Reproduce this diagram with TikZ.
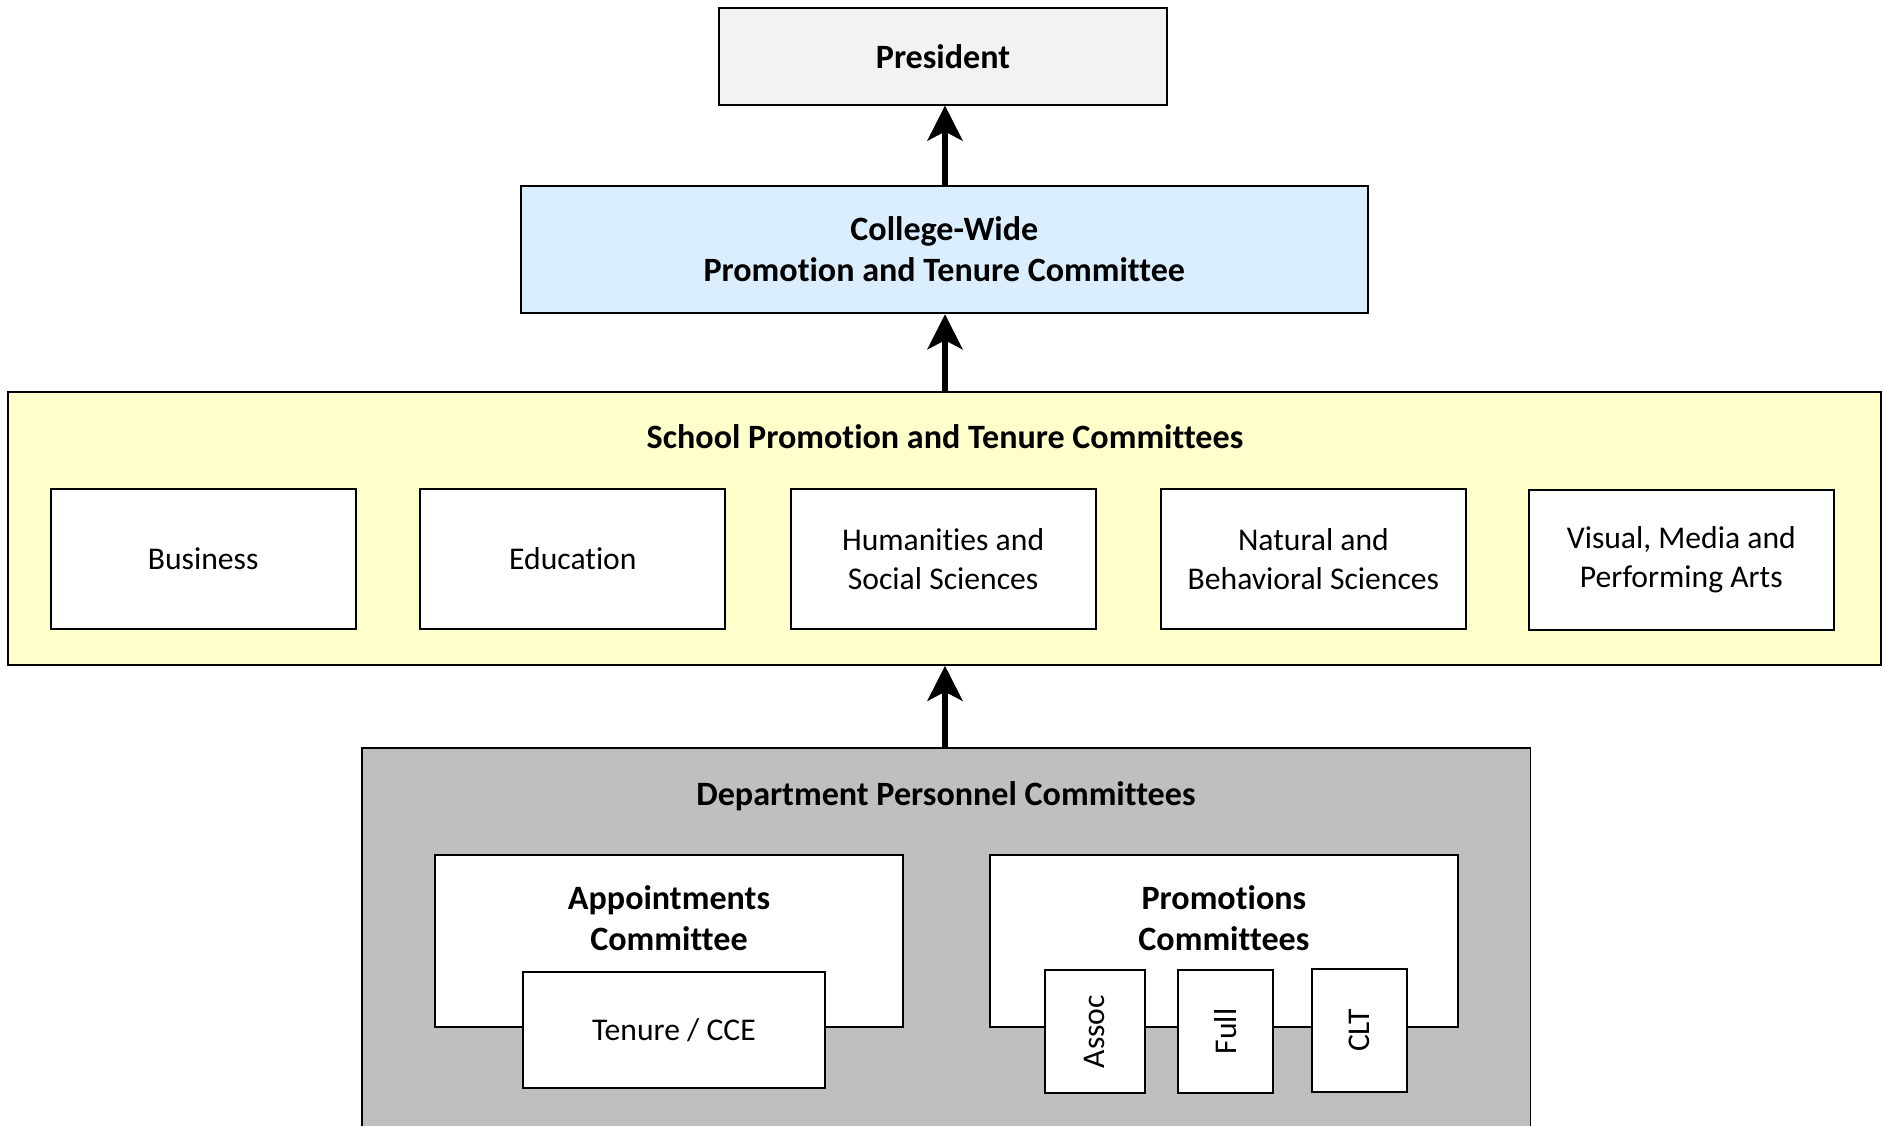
\documentclass[tikz,border=0pt]{standalone}
\usepackage{fontspec}
\setmainfont{Carlito}[RawFeature={-liga;-clig;-rlig;-dlig;-calt}]
\usetikzlibrary{arrows.meta}
\definecolor{presfill}{RGB}{242,242,242}
\definecolor{collfill}{RGB}{218,238,253}
\definecolor{schoolfill}{RGB}{255,255,204}
\definecolor{deptfill}{RGB}{191,191,191}
\tikzset{
  box/.style={draw=black, line width=0.38mm, inner sep=0pt, align=center},
  reg/.style={font=\fontsize{18}{22}\selectfont, align=center},
  bld/.style={font=\fontsize{19.4}{23.3}\selectfont\bfseries, align=center},
  arr/.style={line width=1.2mm, -{Stealth[length=7mm, width=7mm, inset=1.8mm]}},
  subbox/.style={box, fill=white, minimum width=61mm, minimum height=27.9mm, reg},
  rotbox/.style={box, fill=white, minimum height=24.5mm, reg}
}
\begin{document}
\begin{tikzpicture}[x=0.2mm,y=-0.2mm]
\clip (0,0) rectangle (1885,1125);
\fill[white] (0,0) rectangle (1885,1125);
% President
\node[box, fill=presfill, minimum width=89.6mm, minimum height=19.24mm, bld] (pres) at (943,56.5) {President};
% College-wide
\node[box, fill=collfill, minimum width=169.5mm, minimum height=25.5mm, bld] (coll) at (944.3,249.5) {College-Wide\\Promotion and Tenure Committee};
% School
\node[box, fill=schoolfill, minimum width=374.6mm, minimum height=54.56mm] (school) at (944.9,528.4) {};
\node[bld] (schooltitle) at (945,437) {School Promotion and Tenure Committees};
\node[subbox] (bus) at (203.2,559) {Business};
\node[subbox] (edu) at (572.9,559) {Education};
\node[subbox] (hum) at (943.1,559) {Humanities and\\Social Sciences};
\node[subbox] (nat) at (1313.4,559) {Natural and\\Behavioral Sciences};
\node[subbox] (vis) at (1681.3,560) {Visual, Media and\\Performing Arts};
% Department
\node[box, fill=deptfill, minimum width=233.7mm, minimum height=78.44mm] (dept) at (946.2,943.9) {};
\node[bld] (depttitle) at (946,796) {Department Personnel Committees};
\node[box, fill=white, minimum width=93.5mm, minimum height=34.4mm] (appt) at (669,940.7) {};
\node[bld] (appttitle) at (669,918) {Appointments\\Committee};
\node[box, fill=white, minimum width=60.3mm, minimum height=23.1mm, reg] (tenure) at (673.9,1030) {Tenure / CCE};
\node[box, fill=white, minimum width=93.5mm, minimum height=34.4mm] (prom) at (1223.9,940.7) {};
\node[bld] (promtitle) at (1223.9,918) {Promotions\\Committees};
\node[rotbox, minimum width=20mm] (assoc) at (1094.6,1031.5) {\rotatebox{90}{Assoc}};
\node[rotbox, minimum width=19mm] (full) at (1225.6,1031.5) {\rotatebox{90}{Full}};
\node[rotbox, minimum width=19mm] (clt) at (1359.1,1030.3) {\rotatebox{90}{CLT}};
% Arrows
\draw[arr] (coll.north -| 945,0) -- (pres.south -| 945,0);
\draw[arr] (school.north -| 945,0) -- (coll.south -| 945,0);
\draw[arr] (dept.north -| 945,0) -- (school.south -| 945,0);
\end{tikzpicture}
\end{document}
